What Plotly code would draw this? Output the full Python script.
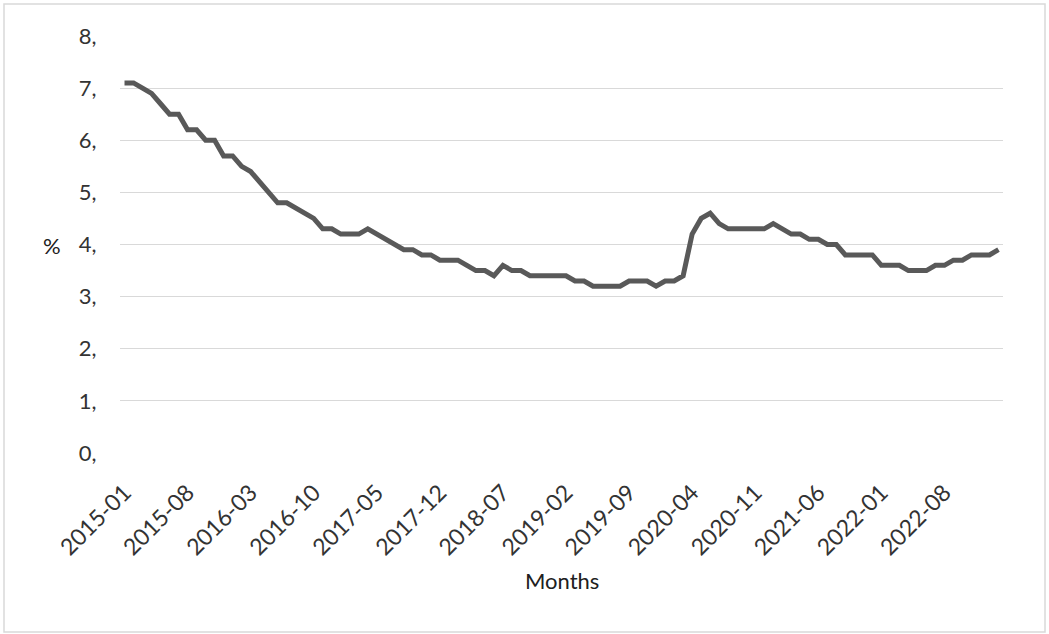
import plotly.graph_objects as go

# Monthly rate, January 2015 through February 2023
months = [f"{y}-{m:02d}" for y in range(2015, 2024) for m in range(1, 13)][:98]
rate = [
    7.1, 7.1, 7.0, 6.9, 6.7, 6.5, 6.5, 6.2, 6.2, 6.0, 6.0, 5.7, 5.7, 5.5, 5.4, 5.2, 5.0, 4.8, 4.8, 4.7,
    4.6, 4.5, 4.3, 4.3, 4.2, 4.2, 4.2, 4.3, 4.2, 4.1, 4.0, 3.9, 3.9, 3.8, 3.8, 3.7, 3.7, 3.7, 3.6,
    3.5, 3.5, 3.4, 3.6, 3.5, 3.5, 3.4, 3.4, 3.4, 3.4, 3.4, 3.3, 3.3, 3.2, 3.2, 3.2, 3.2, 3.3, 3.3,
    3.3, 3.2, 3.3, 3.3, 3.4, 4.2, 4.5, 4.6, 4.4, 4.3, 4.3, 4.3, 4.3, 4.3, 4.4, 4.3, 4.2, 4.2, 4.1, 4.1,
    4.0, 4.0, 3.8, 3.8, 3.8, 3.8, 3.6, 3.6, 3.6, 3.5, 3.5, 3.5, 3.6, 3.6, 3.7, 3.7, 3.8, 3.8, 3.8, 3.9,
]
x_ticks = months[::7]
y_ticks = [0, 1, 2, 3, 4, 5, 6, 7, 8]
y_ticktext = [f"{v}," for v in y_ticks]

FONT = "Lato"
TEXT = "#333333"
GRID = "#d9d9d9"

W, H = 1049, 634
L, R, T, B = 120, 46, 36, 181
pw, ph = W - L - R, H - T - B


def px_to_paper(x, y):
    return (x - L) / pw, (H - B - y) / ph


fig = go.Figure(
    go.Scatter(
        x=months,
        y=rate,
        mode="lines",
        line=dict(color="#595959", width=5),
        hoverinfo="x+y",
    )
)

x0, y0 = px_to_paper(4, 632)
x1, y1 = px_to_paper(1045, 4)

fig.update_layout(
    width=W,
    height=H,
    margin=dict(l=L, r=R, t=T, b=B),
    paper_bgcolor="white",
    plot_bgcolor="white",
    showlegend=False,
    font=dict(family=FONT, size=22, color=TEXT),
    xaxis=dict(
        type="category",
        range=[-0.5, len(months) - 0.5],
        tickmode="array",
        tickvals=x_ticks,
        ticktext=x_ticks,
        tickangle=-45,
        showgrid=False,
        showline=False,
        zeroline=False,
        ticks="outside",
        ticklen=16,
        tickcolor="rgba(0,0,0,0)",
        tickfont=dict(family=FONT, size=23, color=TEXT),
    ),
    yaxis=dict(
        range=[0, 8],
        tickmode="array",
        tickvals=y_ticks,
        ticktext=y_ticktext,
        showgrid=True,
        gridcolor=GRID,
        gridwidth=1,
        zeroline=False,
        showline=False,
        ticks="outside",
        ticklen=18,
        tickcolor="rgba(0,0,0,0)",
        tickfont=dict(family=FONT, size=22, color=TEXT),
    ),
    shapes=[
        dict(
            type="rect",
            xref="paper",
            yref="paper",
            x0=x0,
            y0=y0,
            x1=x1,
            y1=y1,
            line=dict(color=GRID, width=1.5),
            layer="below",
        )
    ],
    annotations=[
        dict(
            text="%",
            xref="paper",
            yref="paper",
            x=px_to_paper(52, 245)[0],
            y=px_to_paper(52, 245)[1],
            showarrow=False,
            font=dict(family=FONT, size=22, color="#202020"),
            xanchor="center",
            yanchor="middle",
        ),
        dict(
            text="Months",
            xref="paper",
            yref="paper",
            x=px_to_paper(562, 580)[0],
            y=px_to_paper(562, 580)[1],
            showarrow=False,
            font=dict(family=FONT, size=22, color="#202020"),
            xanchor="center",
            yanchor="middle",
        ),
    ],
)

fig.write_html("out.html")
